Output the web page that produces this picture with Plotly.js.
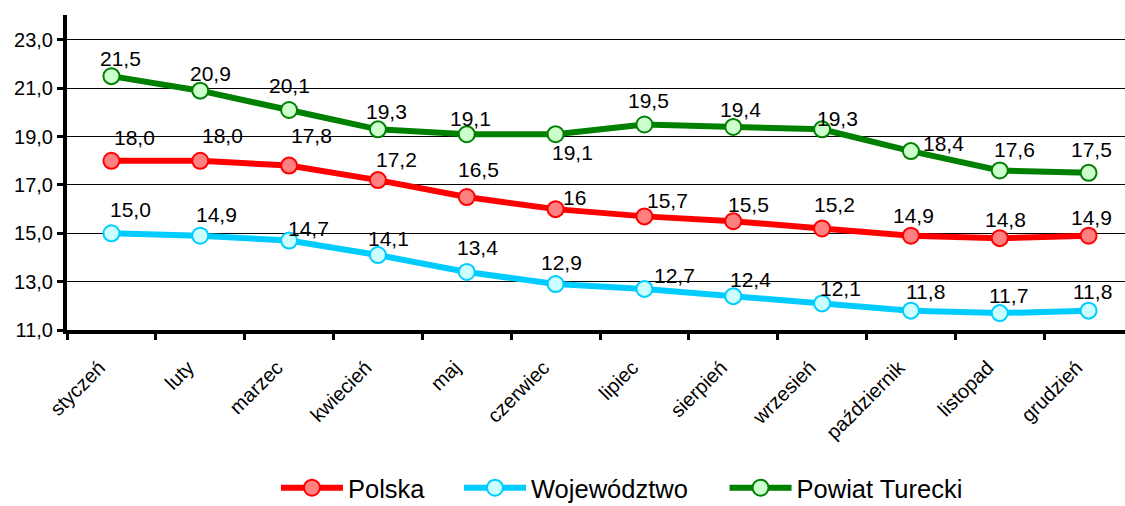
<!DOCTYPE html>
<html>
<head>
<meta charset="utf-8">
<script src="https://cdn.plot.ly/plotly-3.0.1.min.js"></script>
<style>html,body{margin:0;padding:0;background:#fff;}#chart{width:1125px;height:506px;}</style>
</head>
<body>
<div id="chart"></div>
<script>
const months = ['styczeń','luty','marzec','kwiecień','maj','czerwiec','lipiec','sierpień','wrzesień','październik','listopad','grudzień'];
const polska = [18.0, 18.0, 17.8, 17.2, 16.5, 16, 15.7, 15.5, 15.2, 14.9, 14.8, 14.9];
const wojewodztwo = [15.0, 14.9, 14.7, 14.1, 13.4, 12.9, 12.7, 12.4, 12.1, 11.8, 11.7, 11.8];
const powiat = [21.5, 20.9, 20.1, 19.3, 19.1, 19.1, 19.5, 19.4, 19.3, 18.4, 17.6, 17.5];
const yTicks = [11, 13, 15, 17, 19, 21, 23];

// label formatting: the source shows czerwiec (Polska) as a bare "16"
function fmt(v){ return (v === 16) ? '16' : v.toFixed(1).replace('.', ','); }

// label offsets (style only, pixels relative to each point)
const offPolskaX = [23, 22, 22, 19, 12, 19, 23, 15, 12, 3, 6, 3];
const offPolskaY = [22, 24, 29, 20, 27, 11, 15, 16, 23, 19, 18, 17];
const offWojX = [19, 16, 19, 11, 11, 6, 30, 17, 18, 15, 9, 4];
const offWojY = [23, 20, 11, 16, 23, 21, 12, 16, 14, 18, 17, 18];
const offPowX = [9, 10, 0, 9, 4, 17, 4, 7, 15, 33, 15, 3];
const offPowY = [17, 16, 24, 17, 15, -19, 23, 16, 10, 7, 20, 22];

const FONT = 'Liberation Sans, Arial, sans-serif';

function series(name, y, line, fill, legendId){
  return {
    type:'scatter', mode:'lines+markers', name:name, x:months, y:y,
    line:{color:line, width:6},
    marker:{size:16, color:fill, line:{color:line, width:2}},
    cliponaxis:false, legend:legendId
  };
}

function labels(y, ox, oy){
  return y.map((v, i) => ({
    x: months[i], y: v, xref:'x', yref:'y', text: fmt(v), showarrow:false,
    xanchor:'center', yanchor:'middle', xshift: ox[i], yshift: oy[i] + 1,
    font:{family:FONT, size:21, color:'#000'}
  }));
}

const data = [
  series('Polska', polska, '#FF0000', '#FF8080', 'legend'),
  series('Województwo', wojewodztwo, '#00CCFF', '#CCFFFF', 'legend2'),
  series('Powiat Turecki', powiat, '#008000', '#CCFFCC', 'legend3')
];

const annotations = [].concat(
  labels(polska, offPolskaX, offPolskaY),
  labels(wojewodztwo, offWojX, offWojY),
  labels(powiat, offPowX, offPowY)
);

function legendAt(x){
  return {orientation:'h', x:x, xanchor:'left', y:-0.502, yanchor:'middle',
          font:{size:25.5, color:'#000', family:FONT}, itemwidth:62, bgcolor:'rgba(0,0,0,0)'};
}

const layout = {
  width:1125, height:506,
  margin:{l:67, r:0, t:15, b:176, autoexpand:false},
  paper_bgcolor:'#fff', plot_bgcolor:'#fff',
  separators:', ',
  font:{family:FONT, color:'#000'},
  showlegend:true,
  annotations: annotations,
  legend: legendAt(0.1975),
  legend2: legendAt(0.3705),
  legend3: legendAt(0.6215),
  xaxis:{type:'category', range:[-0.5, 11.41], tickson:'boundaries', automargin:false,
         ticks:'outside', ticklen:6, tickwidth:3, tickcolor:'#000',
         showline:true, linecolor:'#000', linewidth:4, showgrid:false,
         tickangle:-45, tickfont:{size:20, color:'#000'}, zeroline:false,
         ticklabelshift:-12, ticklabelstandoff:14},
  yaxis:{range:[11, 24.03], tickvals:yTicks, tickformat:'.1f', automargin:false,
         ticks:'outside', ticklen:6, tickwidth:3, tickcolor:'#000',
         showline:true, linecolor:'#000', linewidth:4,
         showgrid:true, gridcolor:'#000', gridwidth:1, zeroline:false,
         tickfont:{size:20, color:'#000'}}
};

Plotly.newPlot('chart', data, layout, {displayModeBar:false, staticPlot:true});
</script>
</body>
</html>
